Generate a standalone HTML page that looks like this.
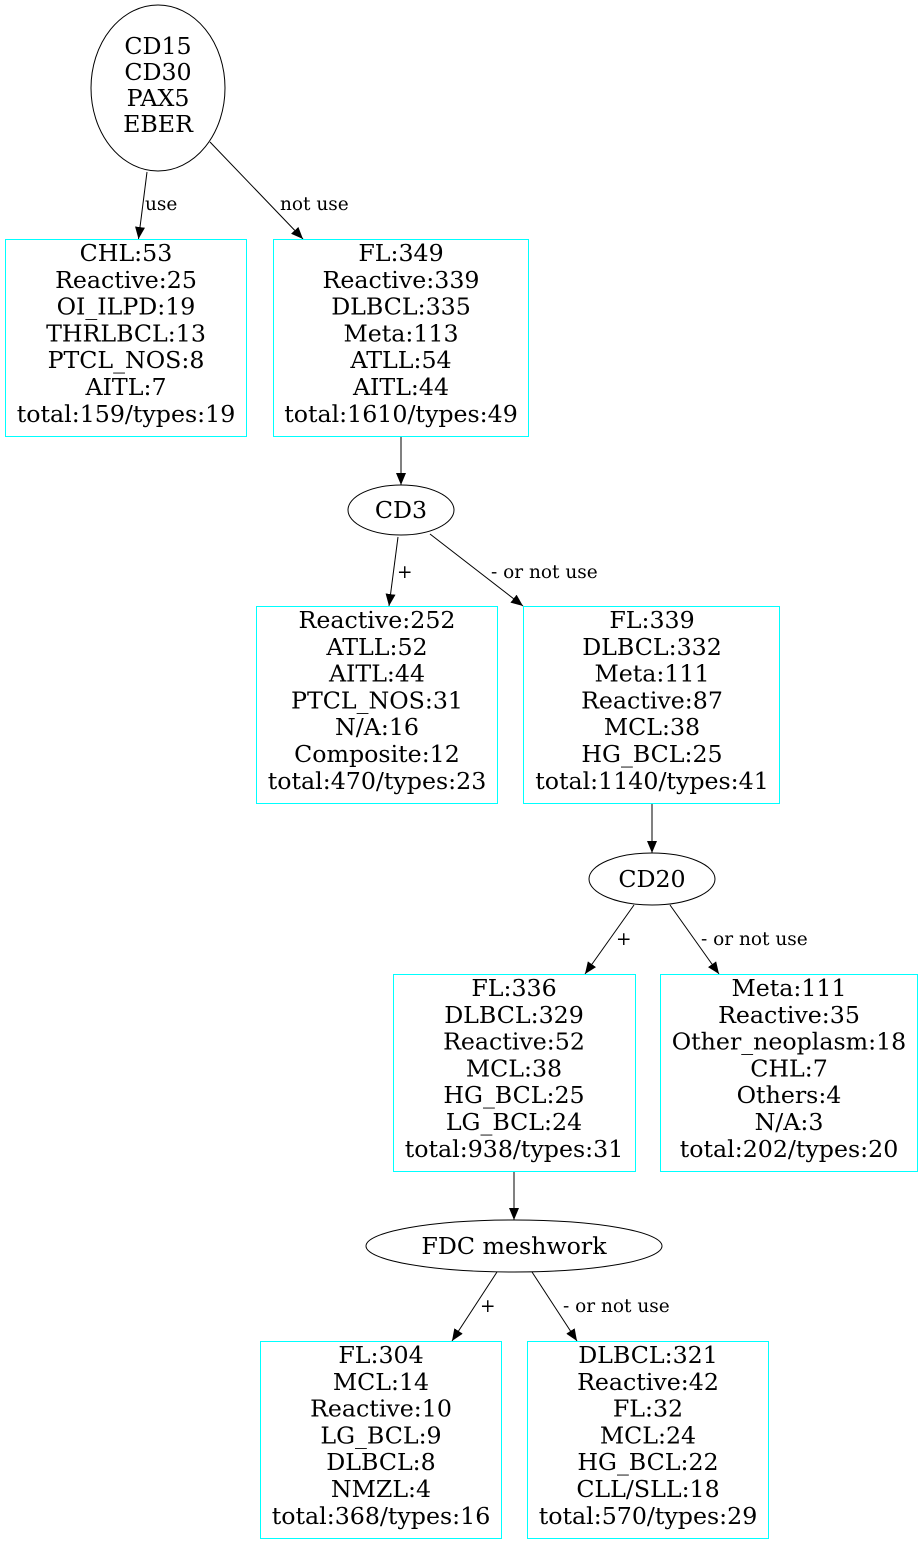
<!DOCTYPE html>
<html><head><meta charset="utf-8"><style>
html,body{margin:0;padding:0;background:#fff;}
svg{display:block;}
.n{font-family:"DejaVu Serif",serif;font-size:23.7px;fill:#000;text-anchor:middle;}
.l{font-family:"DejaVu Serif",serif;font-size:18.5px;fill:#000;}
.b{fill:none;stroke:#00ffff;stroke-width:1;}
.e{fill:none;stroke:#000;stroke-width:1;}
</style></head><body>
<svg width="923" height="1544" viewBox="0 0 923 1544" xmlns="http://www.w3.org/2000/svg">
<defs><marker id="a" markerWidth="12" markerHeight="10" refX="12" refY="5" orient="auto" markerUnits="userSpaceOnUse"><path d="M0,0 L12,5 L0,10 z" fill="#000"/></marker></defs>

<ellipse class="e" cx="158" cy="88" rx="67" ry="83"/>
<text class="n" x="158" y="54">CD15</text><text class="n" x="158" y="80">CD30</text><text class="n" x="158" y="106">PAX5</text><text class="n" x="158" y="132">EBER</text>

<line class="e" x1="147" y1="172" x2="138.5" y2="239" marker-end="url(#a)"/>
<text class="l" x="145" y="210">use</text>
<line class="e" x1="210" y1="142" x2="303" y2="239" marker-end="url(#a)"/>
<text class="l" x="280" y="210">not use</text>

<rect class="b" x="5.5" y="239.5" width="241" height="197"/>
<g class="n"><text x="126" y="261">CHL:53</text><text x="126" y="287.8">Reactive:25</text><text x="126" y="314.6">OI_ILPD:19</text><text x="126" y="341.4">THRLBCL:13</text><text x="126" y="368.2">PTCL_NOS:8</text><text x="126" y="395">AITL:7</text><text x="126" y="422">total:159/types:19</text></g>

<rect class="b" x="273.5" y="239.5" width="255" height="197"/>
<g class="n"><text x="401" y="261">FL:349</text><text x="401" y="287.8">Reactive:339</text><text x="401" y="314.6">DLBCL:335</text><text x="401" y="341.4">Meta:113</text><text x="401" y="368.2">ATLL:54</text><text x="401" y="395">AITL:44</text><text x="401" y="422">total:1610/types:49</text></g>

<line class="e" x1="401" y1="437" x2="401" y2="485" marker-end="url(#a)"/>
<ellipse class="e" cx="401" cy="510" rx="53" ry="25"/>
<text class="n" x="401" y="518">CD3</text>

<line class="e" x1="398" y1="537" x2="389" y2="606" marker-end="url(#a)"/>
<text class="l" x="397" y="578">+</text>
<line class="e" x1="430" y1="534" x2="523" y2="606" marker-end="url(#a)"/>
<text class="l" x="491" y="578">- or not use</text>

<rect class="b" x="256.5" y="606.5" width="241" height="197"/>
<g class="n"><text x="377" y="628">Reactive:252</text><text x="377" y="654.8">ATLL:52</text><text x="377" y="681.6">AITL:44</text><text x="377" y="708.4">PTCL_NOS:31</text><text x="377" y="735.2">N/A:16</text><text x="377" y="762">Composite:12</text><text x="377" y="789">total:470/types:23</text></g>

<rect class="b" x="523.5" y="606.5" width="256" height="197"/>
<g class="n"><text x="652" y="628">FL:339</text><text x="652" y="654.8">DLBCL:332</text><text x="652" y="681.6">Meta:111</text><text x="652" y="708.4">Reactive:87</text><text x="652" y="735.2">MCL:38</text><text x="652" y="762">HG_BCL:25</text><text x="652" y="789">total:1140/types:41</text></g>

<line class="e" x1="652" y1="804" x2="652" y2="853" marker-end="url(#a)"/>
<ellipse class="e" cx="652" cy="879" rx="63" ry="26"/>
<text class="n" x="652" y="887">CD20</text>

<line class="e" x1="634" y1="905" x2="585" y2="974" marker-end="url(#a)"/>
<text class="l" x="616" y="945">+</text>
<line class="e" x1="670" y1="905" x2="719" y2="974" marker-end="url(#a)"/>
<text class="l" x="701" y="945">- or not use</text>

<rect class="b" x="393.5" y="974.5" width="242" height="197"/>
<g class="n"><text x="514" y="996">FL:336</text><text x="514" y="1022.8">DLBCL:329</text><text x="514" y="1049.6">Reactive:52</text><text x="514" y="1076.4">MCL:38</text><text x="514" y="1103.2">HG_BCL:25</text><text x="514" y="1130">LG_BCL:24</text><text x="514" y="1157">total:938/types:31</text></g>

<rect class="b" x="660.5" y="974.5" width="257" height="197"/>
<g class="n"><text x="789" y="996">Meta:111</text><text x="789" y="1022.8">Reactive:35</text><text x="789" y="1049.6">Other_neoplasm:18</text><text x="789" y="1076.4">CHL:7</text><text x="789" y="1103.2">Others:4</text><text x="789" y="1130">N/A:3</text><text x="789" y="1157">total:202/types:20</text></g>

<line class="e" x1="514" y1="1172" x2="514" y2="1220" marker-end="url(#a)"/>
<ellipse class="e" cx="514" cy="1246" rx="148" ry="26"/>
<text class="n" x="514" y="1254">FDC meshwork</text>

<line class="e" x1="497" y1="1272" x2="452" y2="1341" marker-end="url(#a)"/>
<text class="l" x="480" y="1312">+</text>
<line class="e" x1="532" y1="1272" x2="577" y2="1341" marker-end="url(#a)"/>
<text class="l" x="563" y="1312">- or not use</text>

<rect class="b" x="260.5" y="1341.5" width="241" height="197"/>
<g class="n"><text x="381" y="1363">FL:304</text><text x="381" y="1389.8">MCL:14</text><text x="381" y="1416.6">Reactive:10</text><text x="381" y="1443.4">LG_BCL:9</text><text x="381" y="1470.2">DLBCL:8</text><text x="381" y="1497">NMZL:4</text><text x="381" y="1524">total:368/types:16</text></g>

<rect class="b" x="527.5" y="1341.5" width="241" height="197"/>
<g class="n"><text x="648" y="1363">DLBCL:321</text><text x="648" y="1389.8">Reactive:42</text><text x="648" y="1416.6">FL:32</text><text x="648" y="1443.4">MCL:24</text><text x="648" y="1470.2">HG_BCL:22</text><text x="648" y="1497">CLL/SLL:18</text><text x="648" y="1524">total:570/types:29</text></g>
</svg>
</body></html>
